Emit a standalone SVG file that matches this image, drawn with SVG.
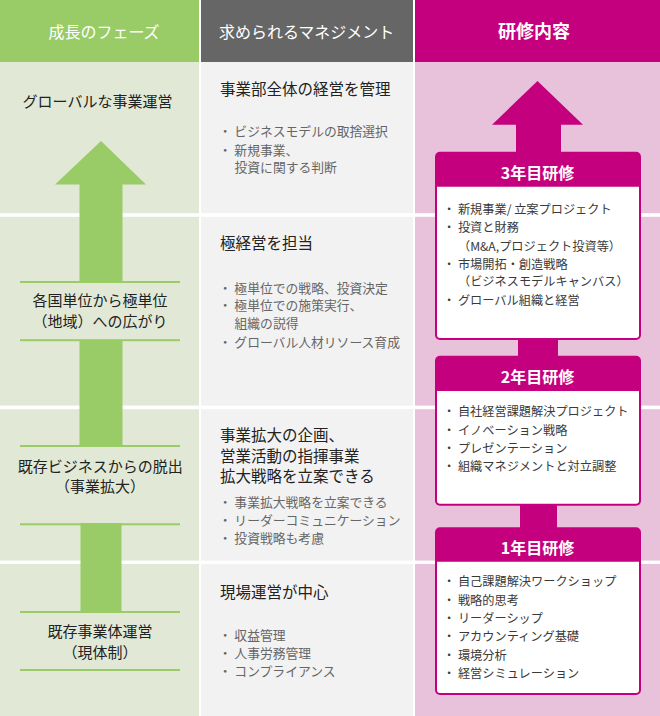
<svg xmlns="http://www.w3.org/2000/svg" width="660" height="716" viewBox="0 0 660 716">
<defs>
<style>
text{font-family:"Noto Sans CJK JP","Noto Sans CJK SC",sans-serif;}
.hd{font-size:16px;fill:#ffffff;text-anchor:middle;}
.lt{font-size:15px;fill:#222222;text-anchor:middle;}
.mt{font-size:15.5px;fill:#222222;}
.mb{font-size:12.8px;fill:#666666;}
.bt{font-size:12.2px;fill:#3a3a3a;}
.tt{font-size:16px;fill:#ffffff;text-anchor:middle;font-weight:700;}
.gl{fill:#99cc66;}
.mg{fill:#c5007e;}
.sep{fill:#ffffff;}
</style>
</defs>
<rect x="0" y="0" width="660" height="716" fill="#ffffff"/>
<g id="columns">
<rect x="0" y="0" width="199" height="62" fill="#99cc66"/>
<rect x="201" y="0" width="212" height="62" fill="#666666"/>
<rect x="415" y="0" width="245" height="62" fill="#c5007e"/>
<rect x="0" y="62" width="199" height="654" fill="#e1e9d6"/>
<rect x="201" y="62" width="212" height="654" fill="#f2f2f2"/>
<rect x="415" y="62" width="245" height="654" fill="#e8c2da"/>
<rect class="sep" x="0" y="213.2" width="660" height="3.6"/>
<rect class="sep" x="0" y="405.6" width="660" height="3.6"/>
<rect class="sep" x="0" y="560.6" width="660" height="3.4"/>
</g>
<g id="headers">
<text class="hd" x="104" y="38">成長のフェーズ</text>
<text class="hd" x="306.7" y="38">求められるマネジメント</text>
<text class="hd" x="534" y="37.8" style="font-size:18px;font-weight:700">研修内容</text>
</g>
<g id="connectors">
<polygon class="gl" points="101,141 146,184.6 55,184.6"/>
<rect class="gl" x="79.5" y="184" width="43" height="98"/>
<rect class="gl" x="79.5" y="340" width="43" height="106"/>
<rect class="gl" x="80.5" y="523" width="41" height="89"/>
<polygon class="mg" points="537.5,81 583,124.7 492,124.7"/>
<rect class="mg" x="516" y="124" width="45" height="30"/>
<rect class="mg" x="518" y="338" width="40" height="20"/>
<rect class="mg" x="520" y="504" width="37" height="25"/>
</g>
<g id="phase-global">
<text class="lt" x="97.5" y="107.4">グローバルな事業運営</text>
</g>
<g id="phase-region">
<rect class="gl" x="20" y="281" width="160" height="2"/>
<text class="lt" x="100" y="305.7">各国単位から極単位</text>
<text class="lt" x="100" y="326.7">（地域）への広がり</text>
<rect class="gl" x="20" y="339.2" width="160" height="2"/>
</g>
<g id="phase-expand">
<rect class="gl" x="20" y="445" width="160" height="2"/>
<text class="lt" x="100.3" y="472.4">既存ビジネスからの脱出</text>
<text class="lt" x="100" y="491.7">（事業拡大）</text>
<rect class="gl" x="20" y="523.3" width="160" height="2"/>
</g>
<g id="phase-current">
<rect class="gl" x="20" y="611" width="160" height="2"/>
<text class="lt" x="100" y="637.4">既存事業体運営</text>
<text class="lt" x="100" y="658">（現体制）</text>
<rect class="gl" x="20" y="669" width="160" height="2"/>
</g>
<g id="mgmt-division">
<text class="mt" x="220" y="95.2">事業部全体の経営を管理</text>
<text class="mb" x="218.7" y="136">・ ビジネスモデルの取捨選択</text>
<text class="mb" x="218.7" y="155">・ 新規事業、</text>
<text class="mb" x="234.5" y="171.7">投資に関する判断</text>
</g>
<g id="mgmt-region">
<text class="mt" x="220" y="248.9">極経営を担当</text>
<text class="mb" x="218.7" y="292.5">・ 極単位での戦略、投資決定</text>
<text class="mb" x="218.7" y="310.3">・ 極単位での施策実行、</text>
<text class="mb" x="234.5" y="328.2">組織の説得</text>
<text class="mb" x="218.7" y="346.5">・ グローバル人材リソース育成</text>
</g>
<g id="mgmt-expand">
<text class="mt" x="220" y="440.9">事業拡大の企画、</text>
<text class="mt" x="220" y="461.5">営業活動の指揮事業</text>
<text class="mt" x="220" y="481.9">拡大戦略を立案できる</text>
<text class="mb" x="218.7" y="506.7">・ 事業拡大戦略を立案できる</text>
<text class="mb" x="218.7" y="524.5">・ リーダーコミュニケーション</text>
<text class="mb" x="218.7" y="542.7">・ 投資戦略も考慮</text>
</g>
<g id="mgmt-current">
<text class="mt" x="220" y="597.6">現場運営が中心</text>
<text class="mb" x="218.7" y="640">・ 収益管理</text>
<text class="mb" x="218.7" y="658.3">・ 人事労務管理</text>
<text class="mb" x="218.7" y="675.7">・ コンプライアンス</text>
</g>
<g id="training-year3">
<rect class="mg" x="435" y="151.7" width="206" height="188.3" rx="5"/>
<path d="M437,186.7 H639 V335 Q639,338 636,338 H440 Q437,338 437,335 Z" fill="#ffffff"/>
<text class="tt" x="537.5" y="178.8">3年目研修</text>
<text class="bt" x="443" y="214">・ 新規事業/ 立案プロジェクト</text>
<text class="bt" x="443" y="232.4">・ 投資と財務</text>
<text class="bt" x="458" y="250.7">（M&amp;A,プロジェクト投資等）</text>
<text class="bt" x="443" y="268.7">・ 市場開拓・創造戦略</text>
<text class="bt" x="458" y="286.4">（ビジネスモデルキャンバス）</text>
<text class="bt" x="443" y="304.7">・ グローバル組織と経営</text>
</g>
<g id="training-year2">
<rect class="mg" x="435" y="355.7" width="206" height="150" rx="5"/>
<path d="M437,391 H639 V500.7 Q639,503.7 636,503.7 H440 Q437,503.7 437,500.7 Z" fill="#ffffff"/>
<text class="tt" x="537.5" y="382.7">2年目研修</text>
<text class="bt" x="443" y="416.4">・ 自社経営課題解決プロジェクト</text>
<text class="bt" x="443" y="434.7">・ イノベーション戦略</text>
<text class="bt" x="443" y="453">・ プレゼンテーション</text>
<text class="bt" x="443" y="471.4">・ 組織マネジメントと対立調整</text>
</g>
<g id="training-year1">
<rect class="mg" x="435" y="527.3" width="206" height="167.7" rx="5"/>
<path d="M437,561.7 H639 V690 Q639,693 636,693 H440 Q437,693 437,690 Z" fill="#ffffff"/>
<text class="tt" x="537.5" y="554.3">1年目研修</text>
<text class="bt" x="443" y="586.4">・ 自己課題解決ワークショップ</text>
<text class="bt" x="443" y="605.4">・ 戦略的思考</text>
<text class="bt" x="443" y="622.7">・ リーダーシップ</text>
<text class="bt" x="443" y="641.4">・ アカウンティング基礎</text>
<text class="bt" x="443" y="659.7">・ 環境分析</text>
<text class="bt" x="443" y="678">・ 経営シミュレーション</text>
</g>
</svg>
